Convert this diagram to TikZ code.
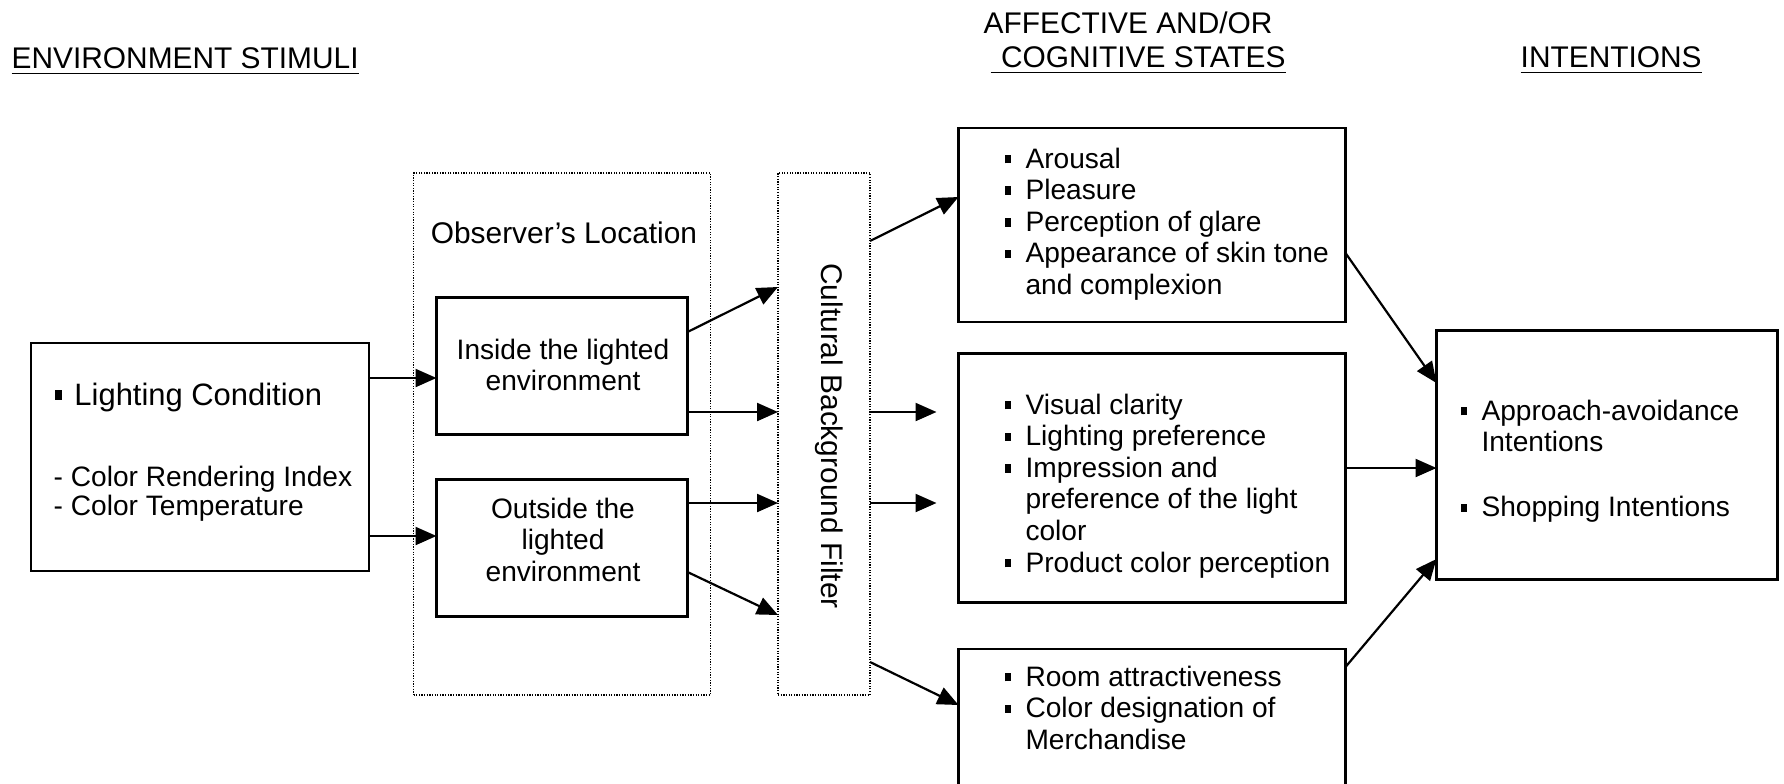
\documentclass[tikz,border=0pt]{standalone}
\usepackage{fontspec}
\setmainfont{Liberation Sans}
\usetikzlibrary{arrows.meta,calc}

\newcommand{\itm}{\makebox[0.74em][l]{\rule[0.17em]{0.22em}{0.3em}}}

\tikzset{
  box/.style={draw, line width=0.28mm, outer sep=0pt, inner sep=0pt},
  dotbox/.style={draw, line width=0.13mm, dash pattern=on 0.35pt off 0.4pt, outer sep=0pt},
  arr/.style={line width=0.22mm, -{Triangle[length=2.1mm,width=1.8mm]}},
  txt/.style={inner sep=0pt, align=left, font=\fontsize{8}{9}\selectfont},
  head/.style={inner sep=0pt, font=\fontsize{8.5}{9.7}\selectfont},
}

\begin{document}
\begin{tikzpicture}[x=0.1mm,y=-0.1mm]

  \path[fill=white, use as bounding box] (0,0) rectangle (1784,784);

  % The column headings.
  \node[head, anchor=base west] (hstim) at (11,68) {\underline{ENVIRONMENT STIMULI}};
  \node[head, anchor=base west] (haff) at (983,33) {AFFECTIVE AND/OR};
  \node[head, anchor=base west] (hcog) at (990,67) {\underline{\hspace{0.35em}COGNITIVE STATES}};
  \node[head, anchor=base west] (hint) at (1520,67) {\underline{INTENTIONS}};

  % The stimulus box.
  \node[box, minimum width=33.8mm, minimum height=22.8mm] (stim) at (200,457) {};
  \node[txt, anchor=base west, font=\fontsize{8.8}{10}\selectfont] (light) at (54,405)
    {\makebox[0.64em][l]{\rule[0.17em]{0.22em}{0.3em}}Lighting Condition};
  \node[txt, anchor=north west, font=\fontsize{8}{8.5}\selectfont] (cri) at (53,465)
    {- Color Rendering Index\\- Color Temperature};

  % The observer's location.
  \node[dotbox, minimum width=29.7mm, minimum height=52.2mm] (obs) at (562,434) {};
  \node[head, anchor=base] (obstxt) at (564,243) {Observer’s Location};
  \node[box, minimum width=25.1mm, minimum height=13.7mm] (ins) at (562,366) {};
  \node[txt, align=center, anchor=north] (instxt) at (563,338) {Inside the lighted\\environment};
  \node[box, minimum width=25.1mm, minimum height=13.7mm] (outs) at (562,548) {};
  \node[txt, align=center, anchor=north] (outtxt) at (563,497) {Outside the\\lighted\\environment};

  % The cultural filter.
  \node[dotbox, minimum width=9.2mm, minimum height=52.2mm] (filt) at (824,434) {};
  \node[head, rotate=-90] (filttxt) at (829,436) {Cultural Background Filter};

  % The affective and cognitive states.
  \node[box, minimum width=38.7mm, minimum height=19.4mm] (aff1) at (1152,225) {};
  \node[txt, anchor=north west] (aff1txt) at (1004,147)
    {\itm Arousal\\\itm Pleasure\\\itm Perception of glare\\\itm Appearance of skin tone\\\hspace*{0.74em}and complexion};
  \node[box, minimum width=38.7mm, minimum height=24.9mm] (aff2) at (1152,478) {};
  \node[txt, anchor=north west] (aff2txt) at (1004,393)
    {\itm Visual clarity\\\itm Lighting preference\\\itm Impression and\\\hspace*{0.74em}preference of the light\\\hspace*{0.74em}color\\\itm Product color perception};
  \node[box, minimum width=38.7mm, minimum height=20mm] (aff3) at (1152,749) {};
  \node[txt, anchor=north west] (aff3txt) at (1004,665)
    {\itm Room attractiveness\\\itm Color designation of\\\hspace*{0.74em}Merchandise};

  % The intentions.
  \node[box, minimum width=34.1mm, minimum height=24.9mm] (intn) at (1607,455) {};
  \node[txt, anchor=north west] (intntxt) at (1460,399)
    {\itm Approach-avoidance\\\hspace*{0.74em}Intentions\\[9.5pt]\itm Shopping Intentions};

  % The arrows.
  \coordinate (gap1) at ($(aff2.west |- 0,412)+(-22,0)$);
  \coordinate (gap2) at ($(aff2.west |- 0,503)+(-22,0)$);

  \draw[arr] (stim.east |- 0,378) -- (ins.west |- 0,378);
  \draw[arr] (stim.east |- 0,536) -- (outs.west |- 0,536);
  \draw[arr] (ins.east |- 0,332) -- (filt.west |- 0,287);
  \draw[arr] (ins.east |- 0,412) -- (filt.west |- 0,412);
  \draw[arr] (outs.east |- 0,503) -- (filt.west |- 0,503);
  \draw[arr] (outs.east |- 0,572) -- (filt.west |- 0,615);
  \draw[arr] (filt.east |- 0,241) -- (aff1.west |- 0,197);
  \draw[arr] (filt.east |- 0,412) -- (gap1);
  \draw[arr] (filt.east |- 0,503) -- (gap2);
  \draw[arr] (filt.east |- 0,662) -- (aff3.west |- 0,705);
  \draw[arr] (aff1.east |- 0,253) -- (intn.west |- 0,383);
  \draw[arr] (aff2.east |- 0,468) -- (intn.west |- 0,468);
  \draw[arr] (aff3.east |- 0,667) -- (intn.west |- 0,559);

\end{tikzpicture}
\end{document}
